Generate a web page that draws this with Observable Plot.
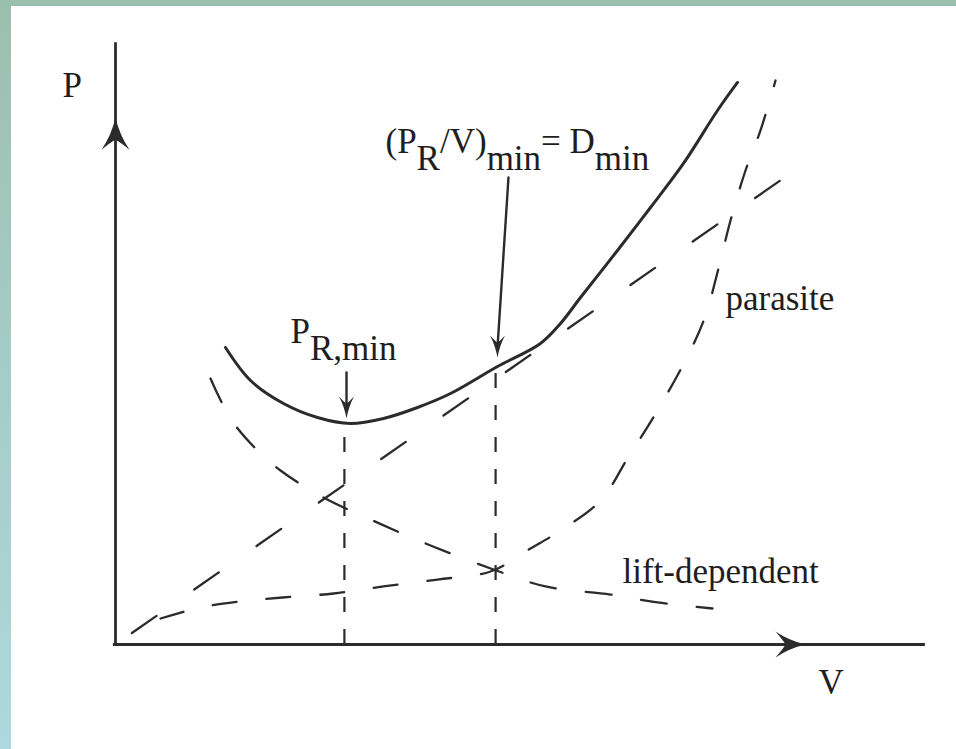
<!DOCTYPE html>
<html>
<head>
<meta charset="utf-8">
<script src="https://cdn.jsdelivr.net/npm/d3@7"></script>
<script src="https://cdn.jsdelivr.net/npm/@observablehq/plot@0.6"></script>
<style>
  html, body { margin: 0; padding: 0; background: #fff; }
  #frame {
    width: 956px; height: 749px; box-sizing: border-box;
    padding: 6px 0 0 11px;
    background: linear-gradient(to bottom, #9bbfad 0%, #a3c8c0 35%, #aed8dd 100%);
    overflow: hidden;
  }
  #frame svg { display: block; background: #fff; }
</style>
</head>
<body>
<div id="frame"></div>
<script>
// ---- data (V = speed, P = power, arbitrary units) ----
const totalV = [1.571, 1.929, 2.4, 2.886, 3.357, 3.829, 4.314, 4.786, 5.457, 6.071, 6.357, 6.643, 7.171, 7.643, 8.114, 8.6, 8.886];
const totalP = [4.95, 4.40, 4.017, 3.783, 3.683, 3.767, 3.95, 4.183, 4.633, 5.017, 5.35, 5.783, 6.567, 7.283, 8.017, 8.9, 9.367];

const liftV = [1.357, 1.643, 2.0, 2.357, 2.971, 3.643, 4.5, 5.4, 6.143, 7.071, 7.643, 8.529];
const liftP = [4.433, 3.767, 3.267, 2.9, 2.45, 2.083, 1.65, 1.25, 0.967, 0.833, 0.717, 0.6];

const parasiteV = [0.643, 1.214, 1.786, 2.386, 3.114, 3.829, 4.6, 5.357, 5.929, 6.357, 6.929, 7.314, 7.743, 8.214, 8.429, 8.614, 8.786, 9.0, 9.214, 9.429];
const parasiteP = [0.433, 0.617, 0.717, 0.783, 0.85, 0.967, 1.083, 1.217, 1.6, 1.9, 2.4, 3.1, 3.9, 4.9, 5.483, 6.267, 7.067, 7.9, 8.567, 9.4];

const tangentV = [0, 9.86];
const tangentP = [0, 8.03];

const guideV = [3.27, 5.43];
const guideTop = [3.68, 4.63];

const labelText = ["P", "V", "P_{R,min}", "(P_{R}/V)_{min}= D_{min}", "parasite", "lift-dependent"];
const labelV = [-0.757, 10.043, 2.5, 3.857, 8.714, 7.243];
const labelP = [9.117, -0.817, 5.033, 8.2, 5.567, 1.033];

const pointerV1 = [3.3, 5.614];
const pointerP1 = [4.533, 7.783];
const pointerV2 = [3.3, 5.457];
const pointerP2 = [3.9, 4.95];
const pointerBend = [0, -8];
const headV = [3.3, 5.457];
const headP = [3.767, 4.783];

const axisTopP = 10.03;
const axisEndV = 11.57;
const axisArrowUp = [{V: 0, P: 8.78}];
const axisArrowRight = [{V: 9.857, P: 0}];

// ---- tables ----
const zip = (vs, ps) => vs.map((v, i) => ({V: v, P: ps[i]}));
const total = zip(totalV, totalP);
const lift = zip(liftV, liftP);
const parasite = zip(parasiteV, parasiteP);
const tangent = zip(tangentV, tangentP);
const guides = guideV.map((v, i) => ({V: v, top: guideTop[i]}));
const labels = labelText.map((t, i) => ({t, V: labelV[i], P: labelP[i]}));
const pointers = pointerV1.map((v, i) => ({x1: v, y1: pointerP1[i], x2: pointerV2[i], y2: pointerP2[i], bend: pointerBend[i]}));
const pointerHeads = zip(headV, headP);

// dart-shaped filled arrowheads (custom symbols)
function dart(len, half, notch, dir) {
  const pts = [[0, 0], [half * 0.3, len * 0.55], [half, len], [half * 0.35, notch + (len - notch) * 0.25], [0, notch],
               [-half * 0.35, notch + (len - notch) * 0.25], [-half, len], [-half * 0.3, len * 0.55]];
  const tf = dir === "up" ? ([x, y]) => [x, y]
           : dir === "down" ? ([x, y]) => [x, -y]
           : ([x, y]) => [-y, x]; // right
  return {
    draw(ctx) {
      const p = pts.map(tf);
      ctx.moveTo(...p[0]);
      ctx.quadraticCurveTo(...p[1], ...p[2]);
      ctx.quadraticCurveTo(...p[3], ...p[4]);
      ctx.quadraticCurveTo(...p[5], ...p[6]);
      ctx.quadraticCurveTo(...p[7], ...p[0]);
      ctx.closePath();
    }
  };
}

const ink = "#2b2b2b";
const W = 945, H = 743;

const chart = Plot.plot({
  width: W,
  height: H,
  margin: 0,
  x: {domain: [(11 - 115) / 70, (956 - 115) / 70], axis: null},
  y: {domain: [(644 - 749) / 60, (644 - 6) / 60], axis: null},
  style: {background: "#fff"},
  marks: [
    // axes
    Plot.ruleY([0], {x1: -0.03, x2: axisEndV, stroke: ink, strokeWidth: 3}),
    Plot.ruleX([0], {y1: 0, y2: axisTopP, stroke: ink, strokeWidth: 2.8}),
    Plot.dot(axisArrowUp, {x: "V", y: "P", symbol: dart(32, 14, 22, "up"), fill: ink, stroke: "none"}),
    Plot.dot(axisArrowRight, {x: "V", y: "P", symbol: dart(30, 13, 20, "right"), fill: ink, stroke: "none"}),
    // guides
    Plot.ruleX(guides, {x: "V", y1: 0, y2: "top", stroke: ink, strokeWidth: 2.2, strokeDasharray: "15,17"}),
    // dashed component curves
    Plot.line(tangent, {x: "V", y: "P", stroke: ink, strokeWidth: 2.3, strokeDasharray: "30,46", strokeDashoffset: -20}),
    Plot.line(lift, {x: "V", y: "P", curve: "catmull-rom", stroke: ink, strokeWidth: 2.3, strokeDasharray: "26,30"}),
    Plot.line(parasite, {x: "V", y: "P", curve: "catmull-rom", stroke: ink, strokeWidth: 2.3, strokeDasharray: "24,30"}),
    // total power
    Plot.line(total, {x: "V", y: "P", curve: "catmull-rom", stroke: ink, strokeWidth: 3}),
    // pointers
    Plot.arrow(pointers, {x1: "x1", y1: "y1", x2: "x2", y2: "y2", bend: d => d.bend, headLength: 0, stroke: ink, strokeWidth: 2.4}),
    Plot.dot(pointerHeads, {x: "V", y: "P", symbol: dart(22, 7.5, 15, "down"), fill: ink, stroke: "none"}),
    // labels
    Plot.text(labels, {x: "V", y: "P", text: "t", textAnchor: "start", lineAnchor: "bottom",
      fontFamily: "Liberation Serif", fontSize: 35, fill: "#1e1e1e"})
  ]
});

// subscripts: turn "_{...}" into lowered tspans
const svgNS = "http://www.w3.org/2000/svg";
chart.querySelectorAll("text").forEach(el => {
  const s = el.textContent;
  if (!s.includes("_{")) return;
  const parts = s.split(/(_\{[^}]*\})/).filter(Boolean);
  el.textContent = "";
  let low = false;
  for (const p of parts) {
    const sub = p.startsWith("_{");
    const t = document.createElementNS(svgNS, "tspan");
    t.textContent = sub ? p.slice(2, -1) : p;
    if (sub && !low) { t.setAttribute("dy", "0.5em"); low = true; }
    else if (!sub && low) { t.setAttribute("dy", "-0.5em"); low = false; }
    el.appendChild(t);
  }
});

document.getElementById("frame").appendChild(chart);
</script>
</body>
</html>
